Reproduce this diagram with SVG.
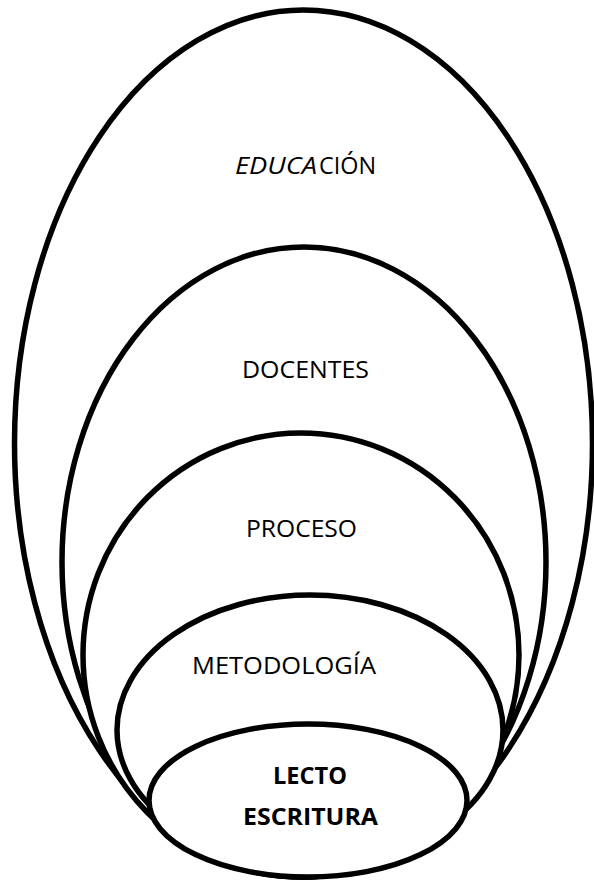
<svg xmlns="http://www.w3.org/2000/svg" width="594" height="882" viewBox="0 0 594 882">
<style>
.ov{fill:#fff;stroke:#000;stroke-width:5.5}
.t{font-family:"Open Sans","Liberation Sans",sans-serif;font-size:24px;fill:#000}
.b{font-weight:bold}
</style>
<rect width="594" height="882" fill="#fff"/>
<g id="educacion">
<ellipse class="ov" cx="303.5" cy="443.5" rx="289" ry="433.5"/>
<text class="t" y="174"><tspan x="235" font-style="italic" textLength="82" lengthAdjust="spacingAndGlyphs">EDUCA</tspan><tspan x="319" textLength="57" lengthAdjust="spacingAndGlyphs">CIÓN</tspan></text>
</g>
<g id="docentes">
<ellipse class="ov" cx="304" cy="562" rx="242" ry="315"/>
<text class="t" x="242" y="378" textLength="127" lengthAdjust="spacingAndGlyphs">DOCENTES</text>
</g>
<g id="proceso">
<ellipse class="ov" cx="301" cy="655" rx="218" ry="222"/>
<text class="t" x="246" y="537" textLength="111" lengthAdjust="spacingAndGlyphs">PROCESO</text>
</g>
<g id="metodologia">
<ellipse class="ov" cx="310" cy="730" rx="193" ry="135"/>
<text class="t" x="192" y="674" textLength="184" lengthAdjust="spacingAndGlyphs">METODOLOGÍA</text>
</g>
<g id="lectoescritura">
<ellipse class="ov" cx="308" cy="800.5" rx="159" ry="76.5"/>
<text class="t b" x="273" y="784" textLength="74" lengthAdjust="spacingAndGlyphs">LECTO</text>
<text class="t b" x="243" y="825" textLength="135" lengthAdjust="spacingAndGlyphs">ESCRITURA</text>
</g>
<g id="connectors"/>
</svg>
